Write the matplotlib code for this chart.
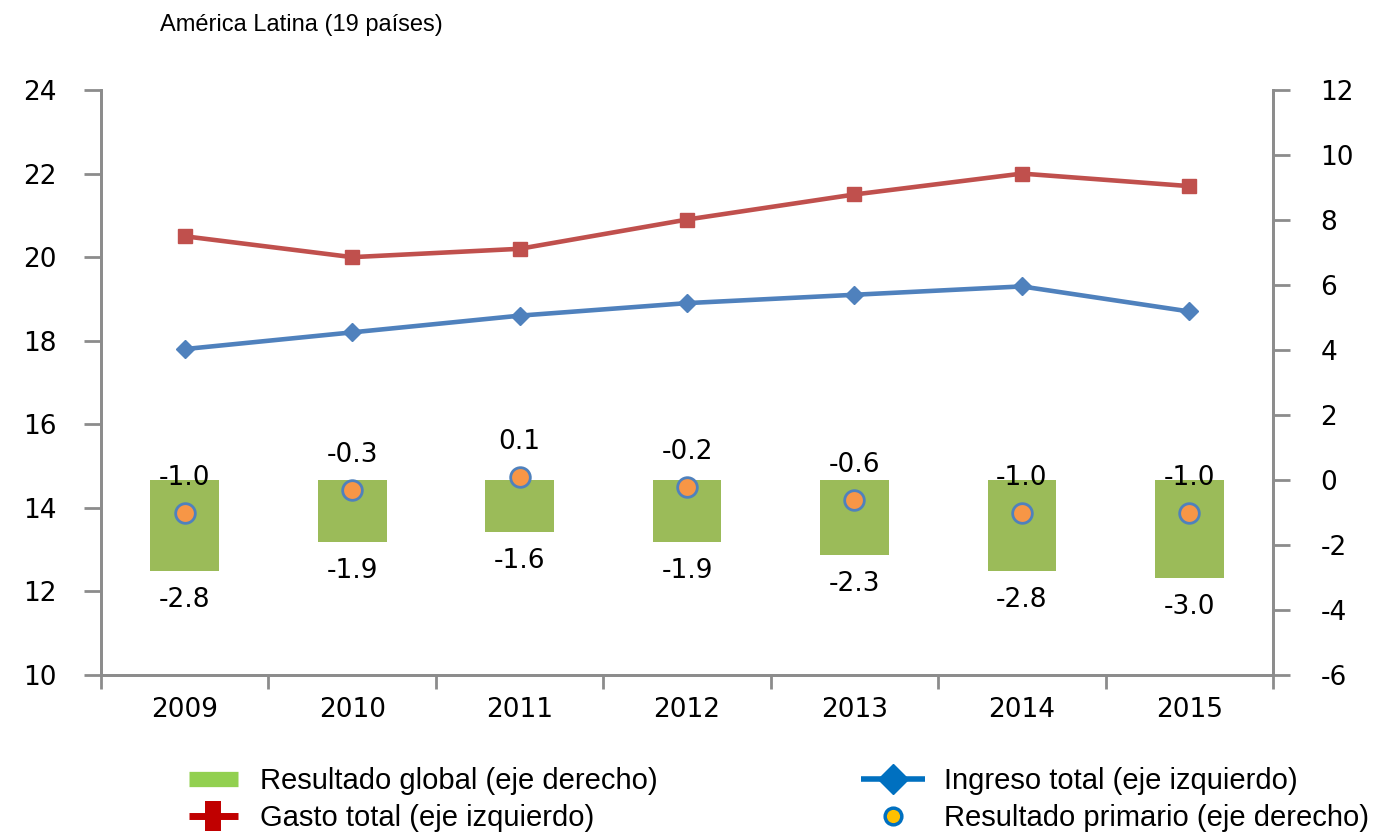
import matplotlib.pyplot as plt
import numpy as np
from matplotlib.lines import Line2D

years = ["2009", "2010", "2011", "2012", "2013", "2014", "2015"]
gasto_total = [20.5, 20.0, 20.2, 20.9, 21.5, 22.0, 21.7]
ingreso_total = [17.8, 18.2, 18.6, 18.9, 19.1, 19.3, 18.7]
resultado_global = [-2.8, -1.9, -1.6, -1.9, -2.3, -2.8, -3.0]
resultado_primario = [-1.0, -0.3, 0.1, -0.2, -0.6, -1.0, -1.0]

plt.rcParams["font.family"] = "DejaVu Sans"
plt.rcParams["axes.unicode_minus"] = False

spine_gray = "#8c8c8c"
text_font = "Liberation Sans"
num_size = 19

fig = plt.figure(figsize=(13.73, 8.32), dpi=100)
ax = fig.add_axes([0.0736, 0.1887, 0.8536, 0.7031])
ax2 = ax.twinx()

x = np.arange(len(years))

# bars and primary points on the right axis
ax2.bar(x, resultado_global, width=0.41, color="#9BBB59", zorder=2)
ax2.scatter(x, resultado_primario, s=200, color="#F79646", edgecolor="#4F81BD",
            linewidth=2, zorder=4)
for xi, g, p in zip(x, resultado_global, resultado_primario):
    ax2.annotate(f"{p:.1f}", (xi, p), xytext=(0, 25), textcoords="offset points",
                 ha="center", va="center", fontsize=num_size)
    ax2.annotate(f"{g:.1f}", (xi, g), xytext=(0, -21), textcoords="offset points",
                 ha="center", va="center", fontsize=num_size)

# lines on the left axis
ax.plot(x, gasto_total, color="#C0504D", lw=3.3, marker="s", ms=10, zorder=3)
ax.plot(x, ingreso_total, color="#4F81BD", lw=3.3, marker="D", ms=9, zorder=3)

ax.set_xlim(-0.5, len(years) - 0.5)
ax.set_ylim(10, 24)
ax.set_yticks(np.arange(10, 25, 2))
ax2.set_ylim(-6, 12)
ax2.set_yticks(np.arange(-6, 13, 2))

ax.set_xticks(x)
ax.set_xticklabels(years)
ax.set_xticks(np.arange(-0.5, len(years), 1), minor=True)
ax.tick_params(axis="x", which="major", length=0, pad=16, labelsize=num_size)
ax.tick_params(axis="x", which="minor", length=10, width=2, color=spine_gray)
ax.tick_params(axis="y", length=12, width=2, color=spine_gray, pad=20, labelsize=num_size)
ax2.tick_params(axis="y", length=12, width=2, color=spine_gray, pad=22, labelsize=num_size)

for a in (ax, ax2):
    a.spines["top"].set_visible(False)
    for side in ("left", "right", "bottom"):
        a.spines[side].set_color(spine_gray)
        a.spines[side].set_linewidth(2)

ax.set_zorder(ax2.get_zorder() + 1)
ax.patch.set_visible(False)

fig.text(0.1165, 0.97, "América Latina (19 países)", ha="left", va="center",
         fontsize=17, family=text_font)

legend_prop = {"family": text_font, "size": 21}
left_handles = [
    Line2D([], [], color="#92D050", lw=11, solid_capstyle="butt"),
    Line2D([], [], color="#C00000", lw=5, marker="|", ms=22, mew=11.5,
           solid_capstyle="butt"),
]
left_labels = ["Resultado global (eje derecho)", "Gasto total (eje izquierdo)"]
right_handles = [
    Line2D([], [], color="#0070C0", lw=4, marker="D", ms=15,
           solid_capstyle="butt"),
    Line2D([], [], ls="none", marker="o", ms=12, color="#FFC000",
           markeredgecolor="#0070C0", markeredgewidth=2.5),
]
right_labels = ["Ingreso total (eje izquierdo)", "Resultado primario (eje derecho)"]

fig.legend(left_handles, left_labels, loc="upper left",
           bbox_to_anchor=(189 / 1373, 1 - 767 / 832), frameon=False,
           prop=legend_prop, borderpad=0, borderaxespad=0,
           handlelength=1.68, handletextpad=0.75, labelspacing=0.3)
fig.legend(right_handles, right_labels, loc="upper left",
           bbox_to_anchor=(861 / 1373, 1 - 767 / 832), frameon=False,
           prop=legend_prop, borderpad=0, borderaxespad=0,
           handlelength=2.2, handletextpad=0.66, labelspacing=0.3)

fig.savefig("out.png", dpi=100)
